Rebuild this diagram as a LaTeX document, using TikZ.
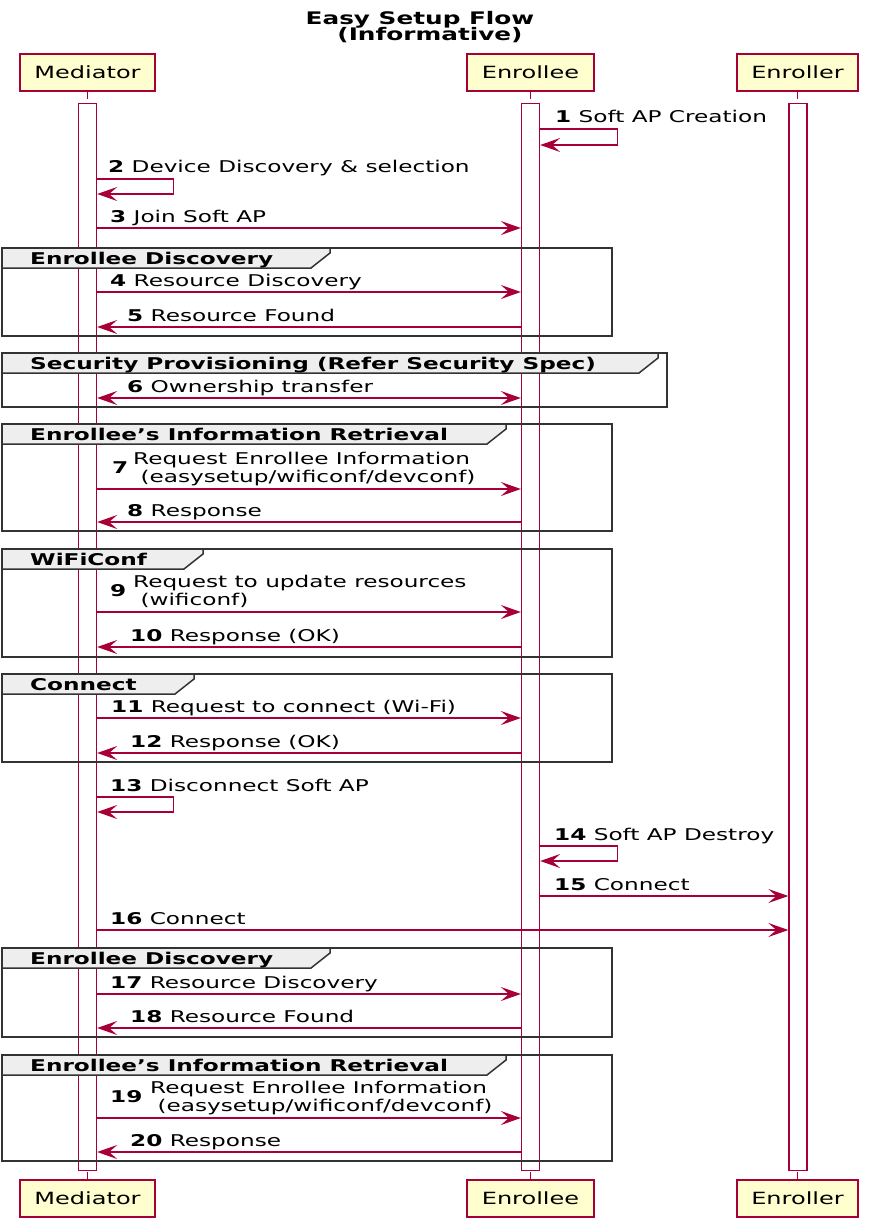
\documentclass[tikz,border=0pt]{standalone}
\usepackage{fontspec}
\setmainfont{DejaVu Sans}[FakeStretch=1.43]
\usetikzlibrary{arrows.meta}
\definecolor{pred}{HTML}{A80036}
\definecolor{pfill}{HTML}{FEFECE}
\definecolor{ghead}{HTML}{EEEEEE}
\begin{document}
\begin{tikzpicture}[x=1pt,y=-1pt,
  partbox/.style={draw=pred, fill=pfill, line width=1.8pt, inner sep=0pt, font=\fontsize{16.8}{20}\selectfont},
  actbar/.style={draw=pred, fill=white, line width=1.3pt, minimum width=18pt, inner sep=0pt, anchor=north},
  lifeline/.style={draw=pred, line width=1.3pt, dash pattern=on 7pt off 5pt},
  msg/.style={draw=pred, line width=1.2pt, -{Stealth[length=20pt,width=14pt,inset=8pt]}},
  bimsg/.style={draw=pred, line width=1.2pt, {Stealth[length=20pt,width=14pt,inset=8pt]}-{Stealth[length=20pt,width=14pt,inset=8pt]}},
  lbl/.style={anchor=base west, inner sep=0pt, font=\fontsize{16.2}{18}\selectfont},
  grpbox/.style={draw=black!80, line width=1.5pt},
  ghd/.style={draw=black!80, line width=1.5pt, fill=ghead},
  gttl/.style={anchor=base west, inner sep=0pt, font=\fontsize{16.2}{18}\selectfont\bfseries},
]
\useasboundingbox (0,0) rectangle (869,1225);

% title
\node[anchor=base, inner sep=0pt, font=\fontsize{17.3}{20}\selectfont\bfseries] (t1) at (420,25) {Easy Setup Flow};
\node[anchor=base, inner sep=0pt, font=\fontsize{17.3}{20}\selectfont\bfseries] (t2) at (430,41) {(Informative)};

% participants
\node[partbox, minimum width=135pt, minimum height=37pt] (m1) at (87.5,72.5) {Mediator};
\node[partbox, minimum width=127pt, minimum height=37pt] (e1) at (530.5,72.5) {Enrollee};
\node[partbox, minimum width=121pt, minimum height=37pt] (r1) at (797.5,72.5) {Enroller};
\node[partbox, minimum width=135pt, minimum height=37pt] (m2) at (87.5,1198.5) {Mediator};
\node[partbox, minimum width=127pt, minimum height=37pt] (e2) at (530.5,1198.5) {Enrollee};
\node[partbox, minimum width=121pt, minimum height=37pt] (r2) at (797.5,1198.5) {Enroller};

% lifelines
\draw[lifeline] (m1.south) -- (m2.north);
\draw[lifeline] (e1.south) -- (e2.north);
\draw[lifeline] (r1.south) -- (r2.north);

% activation bars
\node[actbar, minimum height=1067pt] (mb) at (87.5,103) {};
\node[actbar, minimum height=1067pt] (eb) at (530.5,103) {};
\node[actbar, minimum height=1067pt] (rb) at (798,103) {};

% groups
\newcommand\grpframe[6]{%
  \draw[grpbox] (2,#1) rectangle (#2,#3);
  \filldraw[ghd] (2,#1) -- (#4,#1) -- (#4,#1+5) -- (#4-19,#1+20) -- (2,#1+20) -- cycle;
  \node[gttl] (#6) at (30,#1+16) {#5};
}
\grpframe{248}{612}{336}{330}{Enrollee Discovery}{g1}
\grpframe{353}{667}{407}{658}{Security Provisioning (Refer Security Spec)}{g2}
\grpframe{424}{612}{531}{506}{Enrollee’s Information Retrieval}{g3}
\grpframe{549}{612}{657}{203}{WiFiConf}{g4}
\grpframe{674}{612}{762}{194}{Connect}{g5}
\grpframe{948}{612}{1037}{330}{Enrollee Discovery}{g6}
\grpframe{1055}{612}{1161}{506}{Enrollee’s Information Retrieval}{g7}

% messages
% 1
\draw[msg] (eb.east |- 0,129) -- ++(77,0) -- ++(0,16) -- (eb.east |- 0,145);
\node[lbl] (l1) at (555,123) {\textbf{1} Soft AP Creation};
% 2
\draw[msg] (mb.east |- 0,179) -- ++(76,0) -- ++(0,15) -- (mb.east |- 0,194);
\node[lbl] (l2) at (108,173) {\textbf{2} Device Discovery \& selection};
% 3
\draw[msg] (mb.east |- 0,228) -- (eb.west |- 0,228);
\node[lbl] (l3) at (110,222) {\textbf{3} Join Soft AP};
% 4
\draw[msg] (mb.east |- 0,292) -- (eb.west |- 0,292);
\node[lbl] (l4) at (110,286) {\textbf{4} Resource Discovery};
% 5
\draw[msg] (eb.west |- 0,327) -- (mb.east |- 0,327);
\node[lbl] (l5) at (127,321) {\textbf{5} Resource Found};
% 6
\draw[bimsg] (mb.east |- 0,398) -- (eb.west |- 0,398);
\node[lbl] (l6) at (127,392) {\textbf{6} Ownership transfer};
% 7
\draw[msg] (mb.east |- 0,489) -- (eb.west |- 0,489);
\node[lbl] (l7n) at (112,473) {\textbf{7}};
\node[lbl] (l7a) at (133,464) {Request Enrollee Information};
\node[lbl] (l7b) at (133,482) {\ (easysetup/wificonf/devconf)};
% 8
\draw[msg] (eb.west |- 0,522) -- (mb.east |- 0,522);
\node[lbl] (l8) at (127,516) {\textbf{8} Response};
% 9
\draw[msg] (mb.east |- 0,612) -- (eb.west |- 0,612);
\node[lbl] (l9n) at (110,596) {\textbf{9}};
\node[lbl] (l9a) at (133,587) {Request to update resources};
\node[lbl] (l9b) at (133,605) {\ (wificonf)};
% 10
\draw[msg] (eb.west |- 0,647) -- (mb.east |- 0,647);
\node[lbl] (l10) at (130,641) {\textbf{10} Response (OK)};
% 11
\draw[msg] (mb.east |- 0,718) -- (eb.west |- 0,718);
\node[lbl] (l11) at (111,712) {\textbf{11} Request to connect (Wi-Fi)};
% 12
\draw[msg] (eb.west |- 0,753) -- (mb.east |- 0,753);
\node[lbl] (l12) at (130,747) {\textbf{12} Response (OK)};
% 13
\draw[msg] (mb.east |- 0,797) -- ++(76,0) -- ++(0,15) -- (mb.east |- 0,812);
\node[lbl] (l13) at (110,791) {\textbf{13} Disconnect Soft AP};
% 14
\draw[msg] (eb.east |- 0,846) -- ++(77,0) -- ++(0,15) -- (eb.east |- 0,861);
\node[lbl] (l14) at (554,840) {\textbf{14} Soft AP Destroy};
% 15
\draw[msg] (eb.east |- 0,896) -- (rb.west |- 0,896);
\node[lbl] (l15) at (554,890) {\textbf{15} Connect};
% 16
\draw[msg] (mb.east |- 0,930) -- (rb.west |- 0,930);
\node[lbl] (l16) at (110,924) {\textbf{16} Connect};
% 17
\draw[msg] (mb.east |- 0,994) -- (eb.west |- 0,994);
\node[lbl] (l17) at (110,988) {\textbf{17} Resource Discovery};
% 18
\draw[msg] (eb.west |- 0,1028) -- (mb.east |- 0,1028);
\node[lbl] (l18) at (130,1022) {\textbf{18} Resource Found};
% 19
\draw[msg] (mb.east |- 0,1118) -- (eb.west |- 0,1118);
\node[lbl] (l19n) at (110,1102) {\textbf{19}};
\node[lbl] (l19a) at (150,1093) {Request Enrollee Information};
\node[lbl] (l19b) at (150,1111) {\ (easysetup/wificonf/devconf)};
% 20
\draw[msg] (eb.west |- 0,1152) -- (mb.east |- 0,1152);
\node[lbl] (l20) at (130,1146) {\textbf{20} Response};
\end{tikzpicture}
\end{document}
